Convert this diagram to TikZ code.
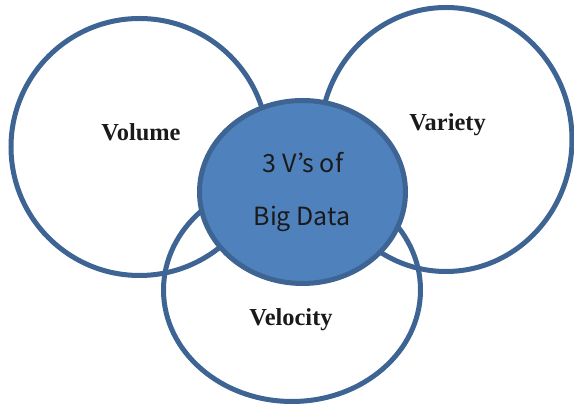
\documentclass[tikz,border=0pt]{standalone}
\usepackage{fontspec}
\usetikzlibrary{shapes.geometric}
\newfontfamily\lblfont{Liberation Serif}
\newfontfamily\ctrfont{Noto Sans CJK KR}
\definecolor{ringblue}{HTML}{3E6494}
\definecolor{fillblue}{HTML}{4F81BD}
\definecolor{txtdark}{HTML}{1A1A1A}
\tikzset{
  ring/.style={shape=ellipse, draw=ringblue, line width=5pt, inner sep=0pt, outer sep=0pt},
  vlabel/.style={anchor=base, inner sep=0pt, font=\lblfont\bfseries\fontsize{24.4}{28}\selectfont, text=txtdark},
  clabel/.style={anchor=base, inner sep=0pt, font=\ctrfont\fontsize{25}{28}\selectfont, text=txtdark}
}
\begin{document}
\begin{tikzpicture}[x=1pt,y=1pt]
\useasboundingbox (0,0) rectangle (574,406);
\node[ring, minimum width=257pt, minimum height=257pt] (volume) at (139.5,259) {};
\node[ring, minimum width=252pt, minimum height=264pt] (variety) at (446,266.5) {};
\node[ring, minimum width=257pt, minimum height=223pt] (velocity) at (292,116) {};
\node[ring, fill=fillblue, minimum width=206pt, minimum height=183pt] (core) at (302.5,214) {};
\node[vlabel] (tvolume) at (141,265.3) {Volume};
\node[vlabel] (tvariety) at (447.5,275) {Variety};
\node[vlabel] (tvelocity) at (291,80) {Velocity};
\node[clabel] (tline1) at (303,233) {3 V’s of};
\node[clabel] (tline2) at (302,180) {Big Data};
\end{tikzpicture}
\end{document}
